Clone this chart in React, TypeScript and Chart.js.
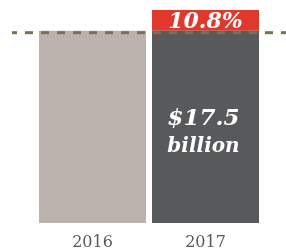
import React, { useEffect, useRef } from "react";
import { Chart, registerables } from "chart.js";

Chart.register(...registerables);

const categories = ["2016", "2017"];
const baseValues = [15.8, 15.8];
const growthValues = [0, 1.7];
const growthLabel = "10.8%";
const totalLabel = "$17.5";
const totalUnit = "billion";

const COLORS = {
  bar2016: "#bcb2ad",
  bar2017: "#58595b",
  red: "#e0392b",
  dash: "#7b6f55",
  axis: "#595959",
};

const SERIF = "'DejaVu Serif', serif";

const overlayPlugin = {
  id: "overlay",
  afterDatasetsDraw(chart: any) {
    const ctx = chart.ctx as CanvasRenderingContext2D;
    const y = chart.scales.y;
    const baseMeta = chart.getDatasetMeta(0);
    const growthMeta = chart.getDatasetMeta(1);
    const refY = y.getPixelForValue(baseValues[0]) + 2;

    // dashed reference line at 2016 level
    ctx.save();
    ctx.strokeStyle = COLORS.dash;
    ctx.lineWidth = 3;
    ctx.setLineDash([8, 8]);
    ctx.lineDashOffset = 3;
    ctx.beginPath();
    ctx.moveTo(12, refY);
    ctx.lineTo(chart.width, refY);
    ctx.stroke();
    ctx.restore();

    // growth label in red segment
    const red = growthMeta.data[1];
    ctx.save();
    ctx.fillStyle = "#ffffff";
    ctx.textAlign = "center";
    ctx.textBaseline = "alphabetic";
    ctx.font = `italic bold 22px ${SERIF}`;
    const redMid = (red.y + red.base) / 2;
    ctx.fillText(growthLabel, red.x, redMid + 8);

    // total label inside 2017 bar
    const bar = baseMeta.data[1];
    const top = chart.chartArea.top;
    ctx.font = `italic bold 23px ${SERIF}`;
    ctx.fillText(totalLabel, bar.x - 2, top + 115);
    ctx.font = `italic bold 20px ${SERIF}`;
    ctx.fillText(totalUnit, bar.x - 2, top + 142);
    ctx.restore();
  },
};

export default function App() {
  const ref = useRef<HTMLCanvasElement | null>(null);

  useEffect(() => {
    if (!ref.current) return;
    const chart = new Chart(ref.current, {
      type: "bar",
      data: {
        labels: categories,
        datasets: [
          {
            data: baseValues,
            backgroundColor: [COLORS.bar2016, COLORS.bar2017],
            borderWidth: 0,
            categoryPercentage: 1,
            barPercentage: 107 / 113,
          },
          {
            data: growthValues,
            backgroundColor: COLORS.red,
            borderWidth: 0,
            categoryPercentage: 1,
            barPercentage: 107 / 113,
          },
        ],
      },
      options: {
        responsive: false,
        animation: false,
        devicePixelRatio: 1,
        layout: { padding: { left: 36, right: 24, top: 10, bottom: 0 } },
        plugins: {
          legend: { display: false },
          tooltip: { enabled: false },
        },
        scales: {
          x: {
            stacked: true,
            grid: { display: false, drawTicks: false },
            border: { display: false },
            ticks: {
              color: COLORS.axis,
              font: { family: SERIF, size: 16 },
              padding: 10,
            },
            afterFit: (scale: any) => {
              scale.height = 28;
            },
          },
          y: {
            stacked: true,
            display: false,
            min: 0,
            max: 17.5,
          },
        },
      },
      plugins: [overlayPlugin],
    });
    return () => chart.destroy();
  }, []);

  return (
    <div style={{ position: "absolute", left: 0, top: 0, width: 286, height: 251 }}>
      <canvas ref={ref} width={286} height={251} />
    </div>
  );
}
